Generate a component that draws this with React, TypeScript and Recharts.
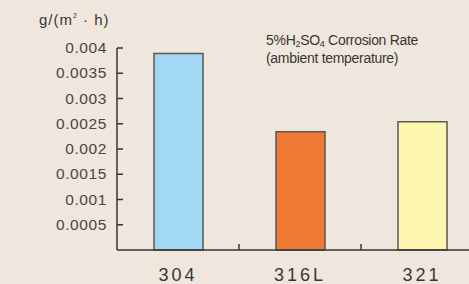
import React from 'react';
import { BarChart, Bar, XAxis, YAxis, Cell } from 'recharts';

const grades = ['304', '316L', '321'];
const rates = [0.00389, 0.00234, 0.00254];
const barColors = ['#a2d8f4', '#ee7a36', '#fdf6ae'];
const yTicks = [0, 0.0005, 0.001, 0.0015, 0.002, 0.0025, 0.003, 0.0035, 0.004];
const yLabels = ['', '0.0005', '0.001', '0.0015', '0.002', '0.0025', '0.003', '0.0035', '0.004'];

const data = grades.map((g, i) => ({ grade: g, rate: rates[i] }));

const BAND = 122;
const AXIS = '#3a3430';
const FONT = '"Liberation Sans", Arial, sans-serif';

function YTick(props: any) {
  const { x, y, index } = props;
  if (index === 0) return null;
  return (
    <g>
      <line x1={x} y1={y} x2={x + 6} y2={y} stroke={AXIS} strokeWidth={1.5} />
      <text x={x - 10} y={y + 5} textAnchor="end" fontSize={15.5} letterSpacing={0.6} fill="#4a4542" fontFamily={FONT}>
        {yLabels[index]}
      </text>
    </g>
  );
}

function XTick(props: any) {
  const { x, y, payload, index } = props;
  return (
    <g>
      {index < grades.length - 1 && (
        <line x1={x + BAND / 2} y1={y} x2={x + BAND / 2} y2={y - 6} stroke={AXIS} strokeWidth={1.5} />
      )}
      <text x={x} y={y + 31} textAnchor="middle" fontSize={18} letterSpacing={3} fill="#3a3634" fontFamily={FONT}>
        {payload.value}
      </text>
    </g>
  );
}

export default function App() {
  return (
    <div style={styles.page}>
      <BarChart width={483} height={284} data={data} margin={{ top: 48, right: 0, bottom: 0, left: 0 }}>
        <YAxis
          width={117}
          domain={[0, 0.004]}
          ticks={yTicks}
          interval={0}
          tickSize={0}
          tickMargin={0}
          tickLine={false}
          axisLine={{ stroke: AXIS, strokeWidth: 1.5 }}
          tick={<YTick />}
        />
        <XAxis
          dataKey="grade"
          height={34}
          tickSize={0}
          tickMargin={0}
          tickLine={false}
          axisLine={{ stroke: AXIS, strokeWidth: 1.5 }}
          tick={<XTick />}
          interval={0}
        />
        <Bar dataKey="rate" barSize={49} stroke="#5e5650" strokeWidth={1.5} isAnimationActive={false}>
          {data.map((d, i) => <Cell key={d.grade} fill={barColors[i]} />)}
        </Bar>
        <text x={39} y={25} fontSize={15} letterSpacing={1} fill="#3a3634" fontFamily={FONT}>
          g/(m<tspan fontSize={7} dy={-7}>2</tspan><tspan dy={7}> · h)</tspan>
        </text>
        <text x={266} y={45} fontSize={14} letterSpacing={-0.3} fill="#3a3634" fontFamily={FONT}>
          5%H<tspan fontSize={9} dy={2}>2</tspan><tspan dy={-2}>SO</tspan><tspan fontSize={9} dy={2}>4</tspan><tspan dy={-2}> Corrosion Rate</tspan>
        </text>
        <text x={266} y={63} fontSize={14} letterSpacing={-0.3} fill="#3a3634" fontFamily={FONT}>
          (ambient temperature)
        </text>
      </BarChart>
    </div>
  );
}

const styles: Record<string, React.CSSProperties> = {
  page: {
    position: 'fixed',
    left: 0,
    top: 0,
    width: 469,
    height: 284,
    overflow: 'hidden',
    backgroundColor: '#efe7dd',
  },
};
